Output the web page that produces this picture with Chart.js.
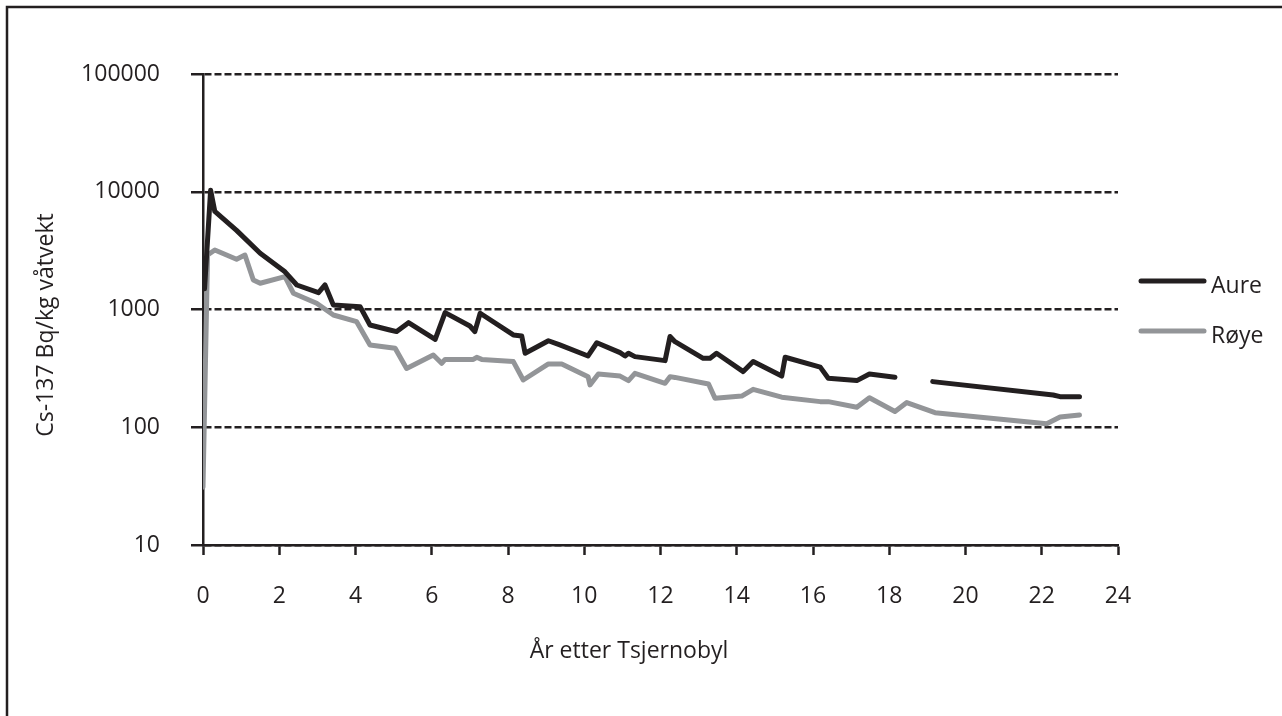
<!DOCTYPE html>
<html>
<head>
<meta charset="utf-8">
<script src="https://cdn.jsdelivr.net/npm/chart.js@4.4.0/dist/chart.umd.min.js"></script>
<style>
  body { margin: 0; background: #fff; }
</style>
</head>
<body>
<canvas id="chart" width="1282" height="716"></canvas>
<script>
// Aure (black) - år etter Tsjernobyl / Bq/kg
const aureX = [0.04, 0.2, 0.31, 0.88, 1.5, 2.15, 2.46, 3.03, 3.2, 3.42, 4.12, 4.38, 4.9, 5.08, 5.39, 6.09, 6.35, 7.0, 7.13, 7.27,
  8.14, 8.36, 8.45, 9.06, 9.36, 10.1, 10.33, 10.94, 11.07, 11.16, 11.33, 12.12, 12.25, 12.38, 13.12, 13.3, 13.47, 14.17, 14.43,
  15.18, 15.27, 16.19, 16.4, 17.15, 17.48, 18.15, 18.5, 19.14, 22.3, 22.48, 22.99];
const aureY = [1500, 10300, 6800, 4700, 3000, 2090, 1615, 1390, 1615, 1090, 1057, 738, 670, 649, 773, 558, 940, 724, 649, 929,
  608, 596, 425, 543, 500, 403, 522, 430, 403, 425, 398, 368, 589, 533, 385, 385, 425, 297, 361,
  272, 393, 324, 261, 249, 283, 266, null, 244, 188, 182, 182];

// Røye (grey)
const royeX = [0.0, 0.12, 0.31, 0.88, 1.1, 1.32, 1.5, 2.15, 2.37, 2.98, 3.42, 4.03, 4.38, 5.04, 5.34, 6.04, 6.26, 6.35, 7.09, 7.18,
  7.31, 8.14, 8.4, 9.06, 9.41, 10.1, 10.15, 10.37, 10.94, 11.16, 11.33, 12.12, 12.25, 12.38, 13.26, 13.43, 14.13, 14.43, 15.18,
  16.19, 16.4, 17.15, 17.48, 18.15, 18.46, 19.2, 22.13, 22.48, 22.99];
const royeY = [31, 2900, 3200, 2670, 2900, 1780, 1670, 1900, 1375, 1130, 898, 788, 499, 468, 316, 411, 349, 377, 377, 393,
  377, 361, 252, 345, 345, 269, 229, 283, 272, 249, 287, 236, 269, 265, 233, 176, 184, 210, 180,
  165, 165, 148, 178, 136, 162, 133, 107, 122, 127];

const seriesNames = ['Aure', 'Røye'];
const xTicks = [0, 2, 4, 6, 8, 10, 12, 14, 16, 18, 20, 22, 24];
const yTicks = [10, 100, 1000, 10000, 100000];
const xTitle = 'År etter Tsjernobyl';
const yTitle = 'Cs-137 Bq/kg våtvekt';

const ink = '#231f20';
const grey = '#939598';
const fontFamily = "'Open Sans', sans-serif";

function toPoints(xs, ys) {
  return xs.map((x, i) => ({ x: x, y: ys[i] }));
}

// frame, axis titles and legend drawn on top of the chart
const extras = {
  id: 'extras',
  beforeDraw(chart) {
    const ctx = chart.ctx;
    ctx.save();
    ctx.fillStyle = '#fff';
    ctx.fillRect(0, 0, chart.width, chart.height);
    ctx.strokeStyle = ink;
    ctx.lineWidth = 2.5;
    ctx.strokeRect(7, 7, 1300, 730);
    ctx.restore();
  },
  afterDraw(chart) {
    const ctx = chart.ctx;
    ctx.save();
    ctx.fillStyle = ink;
    ctx.font = '23px ' + fontFamily;
    ctx.textAlign = 'center';
    ctx.textBaseline = 'alphabetic';
    ctx.fillText(xTitle, 629, 658);

    ctx.translate(53, 325);
    ctx.rotate(-Math.PI / 2);
    ctx.fillText(yTitle, 0, 0);
    ctx.restore();

    // legend
    ctx.save();
    ctx.font = '23px ' + fontFamily;
    ctx.textAlign = 'left';
    ctx.textBaseline = 'alphabetic';
    const rows = [281, 331];
    chart.data.datasets.forEach((ds, i) => {
      ctx.strokeStyle = ds.borderColor;
      ctx.lineWidth = 5;
      ctx.lineCap = 'round';
      ctx.beginPath();
      ctx.moveTo(1141, rows[i]);
      ctx.lineTo(1204, rows[i]);
      ctx.stroke();
      ctx.fillStyle = ink;
      ctx.fillText(ds.label, 1211, rows[i] + 12);
    });
    ctx.restore();
  }
};

const ctx = document.getElementById('chart').getContext('2d');
new Chart(ctx, {
  type: 'line',
  data: {
    datasets: [{
      label: seriesNames[0],
      data: toPoints(aureX, aureY),
      borderColor: ink,
      borderWidth: 5,
      pointRadius: 0,
      tension: 0,
      spanGaps: false,
      borderJoinStyle: 'round',
      borderCapStyle: 'round'
    }, {
      label: seriesNames[1],
      data: toPoints(royeX, royeY),
      borderColor: grey,
      borderWidth: 5,
      pointRadius: 0,
      tension: 0,
      borderJoinStyle: 'round',
      borderCapStyle: 'round'
    }]
  },
  options: {
    responsive: false,
    animation: false,
    layout: { padding: { top: 74, right: 164, left: 0, bottom: 0 } },
    plugins: {
      legend: { display: false },
      tooltip: { enabled: false }
    },
    scales: {
      x: {
        type: 'linear',
        min: 0,
        max: 24,
        afterBuildTicks: (scale) => { scale.ticks = xTicks.map(v => ({ value: v })); },
        afterFit: (scale) => { scale.height = 716 - 545; },
        ticks: {
          color: ink,
          font: { family: fontFamily, size: 23 },
          padding: 28,
          maxRotation: 0
        },
        grid: {
          drawOnChartArea: false,
          drawTicks: true,
          tickLength: 10,
          tickWidth: 2.5,
          tickColor: ink
        },
        border: { color: ink, width: 2.5 }
      },
      y: {
        type: 'logarithmic',
        min: 10,
        max: 100000,
        afterBuildTicks: (scale) => { scale.ticks = yTicks.map(v => ({ value: v })); },
        afterFit: (scale) => { scale.width = 203; },
        ticks: {
          color: ink,
          font: { family: fontFamily, size: 23 },
          padding: 31,
          callback: (v) => String(v)
        },
        grid: {
          color: ink,
          lineWidth: 2.5,
          tickLength: 12,
          tickWidth: 2.5,
          tickColor: ink
        },
        border: { color: ink, width: 2.5, dash: [7, 3] }
      }
    }
  },
  plugins: [extras]
});
</script>
</body>
</html>
